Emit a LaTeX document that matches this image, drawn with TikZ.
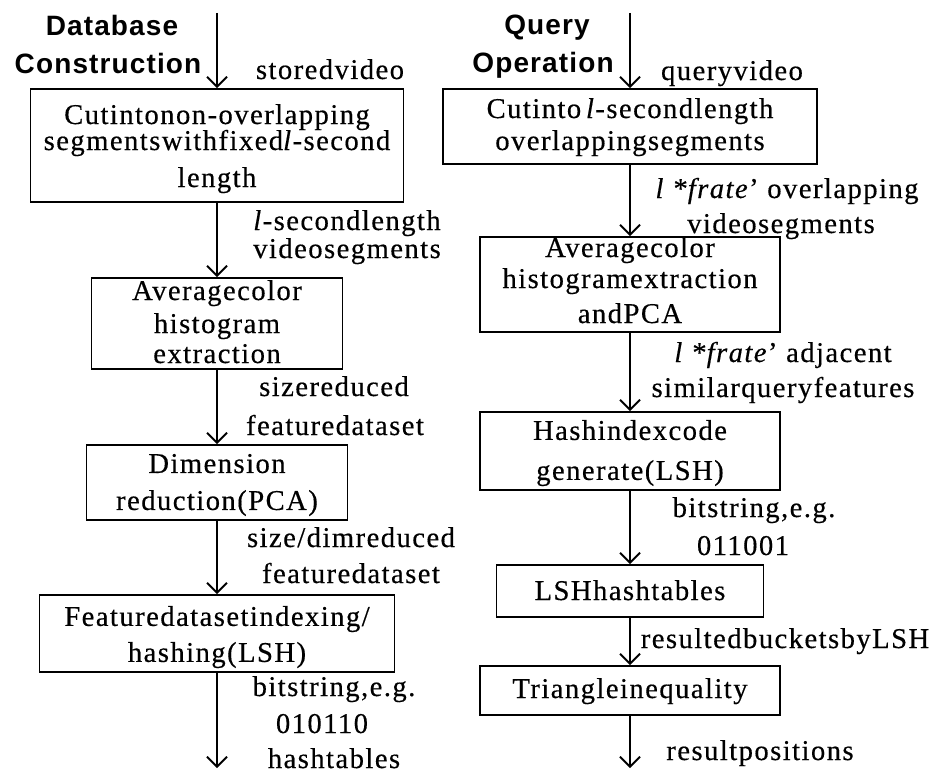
\documentclass[tikz,border=0pt]{standalone}
\usepackage{fontspec}
\setmainfont{Liberation Serif}[LetterSpace=5, FakeBold=0.4]
\newfontfamily\headfont{Liberation Sans}[LetterSpace=4]
\usetikzlibrary{arrows.meta}

% first-line height and last-line depth of a box text, in px (1px = 0.75pt)
\newcommand\toprule[1]{\rule{0pt}{#1\dimexpr0.75pt\relax}}
\newcommand\botrule[1]{\rule[-#1\dimexpr0.75pt\relax]{0pt}{#1\dimexpr0.75pt\relax}}

\begin{document}
\begin{tikzpicture}[x=0.75pt,y=-0.75pt,
  procbox/.style={draw, line width=1.4pt, inner sep=0pt, align=center,
                  font=\fontsize{21.5}{26}\selectfont},
  lbl/.style={anchor=base, inner sep=0pt, font=\fontsize{21.5}{26}\selectfont},
  head/.style={anchor=base, inner sep=0pt, font=\headfont\bfseries\fontsize{21}{25}\selectfont},
  flow/.style={line width=1.4pt, -{Straight Barb[length=7.5pt,width=15pt,line width=1.4pt]}}]
\useasboundingbox (0,0) rectangle (944,774);

% ---------- headings ----------
\node[head] (hdb1) at (112,36) {Database};
\node[head] (hdb2) at (108,74) {Construction};
\node[head] (hq1) at (547,35) {Query};
\node[head] (hq2) at (543,73) {Operation};

% ---------- database construction column ----------
\node[procbox, minimum width=279.75pt, minimum height=84.75pt] (L1) at (217,145.5)
  {\toprule{27}Cutintonon-overlapping\\[-6.5pt]segmentswithfixed\textit{l}-second\\[1.75pt]length\botrule{7}};
\node[procbox, minimum width=188.25pt, minimum height=68.25pt] (L2) at (217,323.5)
  {\toprule{22}Averagecolor\\[-1.25pt]histogram\\[-3.5pt]extraction\botrule{6}};
\node[procbox, minimum width=195.75pt, minimum height=56.25pt] (L3) at (217,482.5)
  {\toprule{24}Dimension\\[1.75pt]reduction(PCA)\botrule{6}};
\node[procbox, minimum width=266.25pt, minimum height=57.75pt] (L4) at (217,633.5)
  {\toprule{27}Featuredatasetindexing/\\[1pt]hashing(LSH)\botrule{6}};

\coordinate (Ltop) at (217,13);
\coordinate (Lend) at (217,768);
\draw[flow] (Ltop) -- (L1);
\draw[flow] (L1) -- (L2);
\draw[flow] (L2) -- (L3);
\draw[flow] (L3) -- (L4);
\draw[flow] (L4) -- (Lend);

\node[lbl] (la) at (330,79) {storedvideo};
\node[lbl] (lb1) at (347,230) {\textit{l}-secondlength};
\node[lbl] (lb2) at (347,258) {videosegments};
\node[lbl] (lc1) at (334,396) {sizereduced};
\node[lbl] (lc2) at (335,435) {featuredataset};
\node[lbl] (ld1) at (351,547) {size/dimreduced};
\node[lbl] (ld2) at (351,583) {featuredataset};
\node[lbl] (le1) at (334,696) {bitstring,e.g.};
\node[lbl] (le2) at (322,733) {010110};
\node[lbl] (le3) at (334,768) {hashtables};

% ---------- query operation column ----------
\node[procbox, minimum width=280.5pt, minimum height=56.25pt] (R1) at (630,126.5)
  {\toprule{21.5}Cutinto\,\textit{l}-secondlength\\[-2pt]overlappingsegments\botrule{6.5}};
\node[procbox, minimum width=225pt, minimum height=63.75pt] (R2) at (630,284.5)
  {\toprule{20}Averagecolor\\[-2.75pt]histogramextraction\\[0.25pt]andPCA\botrule{9}};
\node[procbox, minimum width=225pt, minimum height=58.5pt] (R3) at (630,451)
  {\toprule{24}Hashindexcode\\[4pt]generate(LSH)\botrule{6}};
\node[procbox, minimum width=200.25pt, minimum height=39pt] (R4) at (630,591)
  {\toprule{24}LSHhashtables\botrule{6}};
\node[procbox, minimum width=225pt, minimum height=36.75pt] (R5) at (630,690.5)
  {\toprule{21.5}Triangleinequality\botrule{6.5}};

\coordinate (Rtop) at (630,13);
\coordinate (Rend) at (630,768);
\draw[flow] (Rtop) -- (R1);
\draw[flow] (R1) -- (R2);
\draw[flow] (R2) -- (R3);
\draw[flow] (R3) -- (R4);
\draw[flow] (R4) -- (R5);
\draw[flow] (R5) -- (Rend);

\node[lbl] (ra) at (732,80) {queryvideo};
\node[lbl] (rb1) at (787,198) {\textit{l} *\textit{frate}' overlapping};
\node[lbl] (rb2) at (781,233) {videosegments};
\node[lbl] (rc1) at (783,362) {\textit{l} *\textit{frate}' adjacent};
\node[lbl] (rc2) at (783,397) {similarqueryfeatures};
\node[lbl] (rd1) at (754,517) {bitstring,e.g.};
\node[lbl] (rd2) at (743,555) {011001};
\node[lbl] (re) at (785,648) {resultedbucketsbyLSH};
\node[lbl] (rf) at (760,760) {resultpositions};
\end{tikzpicture}
\end{document}
